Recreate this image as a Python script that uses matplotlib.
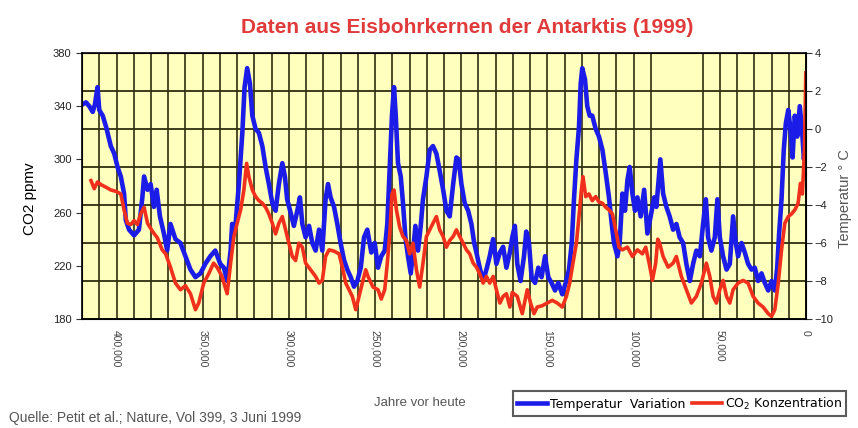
import numpy as np
import matplotlib
matplotlib.use('Agg')
import matplotlib.pyplot as plt
from matplotlib.ticker import FuncFormatter

plt.rcParams['font.family'] = ['Liberation Sans', 'DejaVu Sans']

# Temperaturvariation (Grad C), Jahre vor heute in Tausend
temp_kyr = [419.6, 417.7, 415.8, 413.8, 412.5, 411.0, 410.0, 408.0, 406.0, 403.3,
            401.3, 399.4, 397.5, 395.6, 394.6, 392.7, 389.8, 387.0, 385.0, 384.0,
            382.0, 380.2, 378.3, 376.7, 374.8, 372.5, 370.6, 368.7, 365.8, 362.9,
            360.0, 357.1, 354.2, 351.3, 348.5, 345.6, 342.7, 339.8, 337.7, 335.8,
            333.8, 332.9, 331.0, 329.0, 327.0, 325.7, 324.2, 322.6, 321.2, 319.3,
            317.4, 315.4, 313.5, 311.6, 309.6, 307.7, 305.8, 303.8, 302.3, 301.0,
            299.0, 297.1, 295.1, 293.6, 292.2, 290.3, 288.3, 286.4, 284.5, 282.5,
            280.6, 278.7, 277.3, 275.8, 273.8, 271.9, 270.0, 268.0, 266.1, 264.1,
            262.2, 260.3, 258.3, 256.4, 254.5, 252.2, 250.2, 248.3, 246.4, 244.4,
            242.9, 241.5, 240.2, 239.0, 238.0, 236.7, 235.1, 233.8, 232.4, 230.9,
            229.3, 228.0, 226.6, 225.1, 223.5, 222.2, 220.2, 218.3, 216.4, 214.4,
            212.5, 210.5, 208.6, 206.7, 204.7, 202.8, 201.5, 199.9, 198.0, 196.0,
            194.1, 192.5, 191.2, 189.3, 187.3, 185.4, 183.5, 181.5, 179.6, 177.6,
            175.7, 173.8, 171.8, 170.4, 168.9, 167.5, 165.6, 163.6, 162.3, 160.7,
            159.2, 157.2, 155.3, 153.4, 151.4, 149.5, 147.6, 145.6, 143.7, 141.4,
            139.4, 137.5, 135.9, 134.6, 133.2, 131.7, 130.7, 129.8, 128.2, 126.9,
            125.5, 124.0, 122.0, 120.1, 118.1, 116.2, 114.3, 112.7, 111.4, 109.4,
            108.1, 106.5, 105.0, 103.6, 102.3, 100.7, 99.2, 97.8, 95.9, 93.9,
            92.0, 90.1, 88.1, 86.8, 85.3, 84.5, 82.9, 81.0, 79.1, 77.1,
            75.2, 73.3, 71.3, 69.4, 67.4, 65.5, 63.6, 61.6, 59.7, 58.1,
            56.8, 54.9, 52.9, 51.4, 50.0, 48.1, 46.1, 44.2, 42.3, 40.7,
            39.4, 37.4, 35.5, 33.6, 31.6, 29.7, 27.8, 25.8, 23.9, 21.9,
            20.0, 18.1, 16.7, 15.6, 14.2, 12.9, 11.7, 10.3, 9.0, 7.8,
            6.5, 5.1, 3.6, 2.2, 1.2, 0.3]
temp = [1.3, 1.4, 1.2, 0.9, 1.3, 2.2, 1.0, 0.7, 0.1, -0.9,
        -1.3, -2.0, -2.5, -3.4, -4.8, -5.3, -5.6, -5.3, -3.6, -2.5,
        -3.2, -2.9, -4.1, -3.2, -4.6, -5.5, -6.4, -5.0, -5.8, -6.0,
        -6.7, -7.4, -7.8, -7.6, -7.1, -6.7, -6.4, -7.1, -7.3, -8.0,
        -6.4, -5.0, -5.1, -2.9, -0.2, 2.2, 3.2, 2.4, 0.7, 0.0,
        -0.2, -0.9, -2.0, -2.9, -3.9, -4.3, -2.9, -1.8, -2.5, -3.7,
        -4.4, -5.1, -4.3, -3.6, -5.0, -5.7, -5.1, -6.0, -6.4, -5.3,
        -6.4, -3.7, -2.9, -3.6, -4.1, -5.0, -6.0, -6.9, -7.4, -7.8,
        -8.3, -8.0, -7.3, -5.7, -5.3, -6.5, -6.0, -7.3, -6.7, -6.4,
        -5.0, -2.0, 0.7, 2.2, 0.7, -1.8, -2.5, -3.9, -5.7, -6.7,
        -7.6, -6.5, -5.1, -6.4, -5.1, -3.7, -2.5, -1.1, -0.9, -1.3,
        -2.2, -3.2, -4.3, -4.6, -2.9, -1.5, -1.6, -2.9, -3.9, -4.3,
        -5.0, -6.0, -6.5, -7.3, -8.0, -7.4, -6.7, -5.8, -7.1, -6.5,
        -6.2, -7.3, -6.5, -5.7, -5.1, -7.1, -8.0, -6.7, -5.4, -6.0,
        -7.8, -8.1, -7.3, -7.8, -6.7, -7.8, -8.1, -8.5, -8.1, -8.7,
        -8.1, -7.4, -6.0, -3.7, -1.6, 0.1, 2.4, 3.2, 2.6, 1.2,
        0.7, 0.7, 0.0, -0.4, -1.1, -2.3, -3.6, -5.0, -6.0, -6.7,
        -6.0, -3.4, -4.3, -2.7, -2.0, -3.4, -4.3, -3.6, -4.6, -3.2,
        -5.5, -4.6, -3.6, -4.1, -2.5, -1.6, -3.4, -4.1, -4.6, -5.3,
        -5.0, -5.7, -6.0, -7.1, -8.0, -7.1, -6.4, -6.7, -5.0, -3.7,
        -5.7, -6.4, -5.7, -3.7, -5.7, -6.7, -7.4, -7.1, -4.6, -6.0,
        -6.7, -6.0, -6.5, -7.1, -7.4, -7.3, -8.0, -7.6, -8.1, -8.5,
        -8.0, -8.5, -7.3, -5.5, -3.7, -1.1, 0.3, 1.0, 0.0, -1.5,
        0.7, -0.4, 1.2, -0.2, -1.6, -0.6]

# CO2 Konzentration (ppmv)
co2_kyr = [414.8, 412.9, 411.0, 409.0, 406.0, 403.3, 400.4, 397.5, 395.6, 393.7,
           391.7, 389.8, 387.9, 386.0, 384.0, 382.0, 379.2, 376.3, 373.5, 371.5,
           368.7, 365.8, 362.9, 360.0, 357.1, 354.2, 352.3, 349.4, 346.5, 343.7,
           341.7, 338.8, 337.7, 335.8, 333.8, 331.9, 330.0, 328.0, 326.1, 324.5,
           323.2, 321.2, 319.3, 317.4, 315.4, 313.5, 311.6, 309.6, 307.7, 305.8,
           303.8, 301.9, 300.0, 298.0, 296.1, 294.2, 292.2, 290.3, 287.4, 284.5,
           282.5, 280.6, 278.7, 276.7, 273.8, 270.9, 269.0, 267.0, 265.1, 263.2,
           261.2, 259.3, 257.4, 255.4, 254.1, 251.2, 248.3, 246.4, 244.4, 242.9,
           241.3, 240.2, 239.0, 237.6, 235.7, 233.8, 231.8, 229.9, 228.0, 226.0,
           224.1, 222.2, 220.2, 218.3, 216.4, 214.4, 212.5, 210.5, 208.6, 206.7,
           204.7, 202.8, 200.9, 198.9, 197.0, 195.1, 193.1, 191.2, 189.3, 187.3,
           185.4, 183.5, 181.5, 179.6, 177.6, 175.7, 173.8, 171.8, 170.4, 167.5,
           164.6, 161.7, 159.8, 157.8, 155.9, 153.0, 150.1, 147.2, 144.3, 141.4,
           139.0, 137.1, 135.2, 133.2, 131.7, 130.3, 129.4, 127.8, 125.9, 124.0,
           122.0, 120.1, 118.1, 116.2, 114.3, 112.3, 110.4, 108.5, 106.5, 103.6,
           100.7, 97.8, 94.9, 93.0, 91.0, 89.1, 87.2, 86.0, 84.9, 82.9,
           80.0, 77.1, 75.2, 72.3, 69.4, 66.5, 63.6, 60.7, 57.8, 55.8,
           53.9, 52.0, 50.0, 48.1, 46.1, 44.2, 42.3, 39.4, 36.5, 33.6,
           30.7, 27.8, 24.9, 21.9, 20.0, 18.1, 16.1, 14.2, 12.3, 10.3,
           8.4, 6.5, 4.6, 3.2, 2.1, 0.9, 0.1]
co2 = [284, 278, 283, 281, 279, 277, 276, 274, 262, 252,
       251, 254, 251, 259, 264, 252, 246, 241, 232, 229,
       219, 207, 202, 205, 199, 187, 192, 207, 214, 222,
       219, 212, 207, 199, 222, 242, 252, 262, 277, 297,
       287, 277, 272, 269, 267, 264, 259, 252, 244, 252,
       257, 247, 237, 227, 224, 237, 234, 222, 217, 212,
       207, 209, 227, 232, 231, 229, 219, 207, 202, 197,
       187, 197, 207, 217, 212, 204, 202, 195, 202, 222,
       247, 274, 277, 262, 249, 242, 239, 229, 237, 217,
       204, 222, 242, 247, 252, 257, 247, 242, 234, 239,
       242, 247, 242, 237, 232, 229, 222, 219, 214, 207,
       212, 207, 212, 202, 192, 197, 199, 189, 200, 197,
       184, 202, 192, 184, 189, 190, 192, 194, 192, 189,
       197, 207, 222, 237, 257, 277, 287, 272, 274, 269,
       272, 268, 267, 264, 262, 259, 247, 234, 232, 234,
       227, 232, 229, 234, 222, 209, 222, 240, 237, 227,
       219, 222, 227, 212, 202, 192, 197, 207, 222, 212,
       197, 192, 202, 209, 197, 192, 202, 207, 209, 207,
       197, 192, 189, 184, 182, 187, 207, 232, 252, 257,
       259, 262, 267, 282, 274, 307, 365]

# Achsen-Beschriftung und Gitter
xticks_years = [400000, 350000, 300000, 250000, 200000, 150000, 100000, 50000, 0]
grid_years = [410000, 390000, 380000, 370000, 360000, 340000, 330000, 320000, 310000,
              290000, 280000, 270000, 260000, 240000, 230000, 220000, 210000,
              190000, 180000, 170000, 160000, 140000, 130000, 120000, 110000,
              90000, 60000, 40000, 30000, 20000, 10000]
co2_ticks = [180, 220, 260, 300, 340, 380]
temp_ticks = [-10, -8, -6, -4, -2, 0, 2, 4]

fig = plt.figure(figsize=(8.58, 4.28), dpi=100)
ax = fig.add_axes([0.0956, 0.2547, 0.8438, 0.6215])
ax2 = ax.twinx()

# CO2 axis on top, temperature axis (with background + grid) below
ax.set_zorder(ax2.get_zorder() + 1)
ax.patch.set_visible(False)
ax2.patch.set_visible(True)
ax2.patch.set_facecolor('#FFFFBE')

grid_col = '#2e2e10'
ax.set_xlim(420000, 0)
ax.set_xticks(xticks_years)
ax.set_xticks(grid_years, minor=True)
ax2.xaxis.set_visible(True)
ax2.tick_params(axis='x', which='both', length=0, labelbottom=False, labeltop=False)
ax2.set_ylim(-10, 4)
ax2.set_yticks(temp_ticks)
ax2.grid(axis='y', color=grid_col, lw=1.3)
ax2.grid(axis='x', which='both', color=grid_col, lw=1.2)

l1, = ax2.plot(np.array(temp_kyr) * 1000, temp, color='#1c1ce8', lw=3.3)
l2, = ax.plot(np.array(co2_kyr) * 1000, co2, color='#f0301c', lw=2.6)

ax.set_ylim(180, 380)
ax.set_yticks(co2_ticks)
ax.xaxis.set_major_formatter(FuncFormatter(lambda v, p: '{:,}'.format(int(v))))
ax.tick_params(axis='x', which='both', length=0, labelrotation=-90, labelsize=7.5,
               labelcolor='#444444', pad=8)
ax.tick_params(axis='y', length=4, labelsize=8, labelcolor='#222222', color='#333333')
ax2.tick_params(axis='y', length=4, labelsize=8, labelcolor='#222222', color='#333333', pad=2)

for sp in ax.spines.values():
    sp.set_color('black')
    sp.set_linewidth(1.2)

fig.text(0.035, 0.535, 'CO2 ppmv', rotation=90, ha='center', va='center', fontsize=11)
fig.text(0.985, 0.537, 'Temperatur ° C', rotation=90, ha='center', va='center',
         fontsize=10.5, color='#555555')

fig.text(0.545, 0.935, 'Daten aus Eisbohrkernen der Antarktis (1999)', ha='center', va='center',
         fontsize=15, color='#e03a3a', fontweight='bold')
fig.text(0.489, 0.058, 'Jahre vor heute', ha='center', va='center', fontsize=9.5, color='#555555')
fig.text(0.01, 0.023, 'Quelle: Petit et al.; Nature, Vol 399, 3 Juni 1999', ha='left', va='center',
         fontsize=10, color='#555555')

leg = fig.legend([l1, l2], ['Temperatur  Variation', 'CO$_2$ Konzentration'], ncol=2,
                 loc='center', bbox_to_anchor=(0.792, 0.057),
                 prop={'family': 'DejaVu Sans', 'size': 9}, frameon=True,
                 fancybox=False, edgecolor='#333333', handlelength=2.4, handletextpad=0.2,
                 columnspacing=0.6, borderpad=0.35)
leg.get_frame().set_linewidth(1.5)

fig.savefig('out.png', dpi=100)
